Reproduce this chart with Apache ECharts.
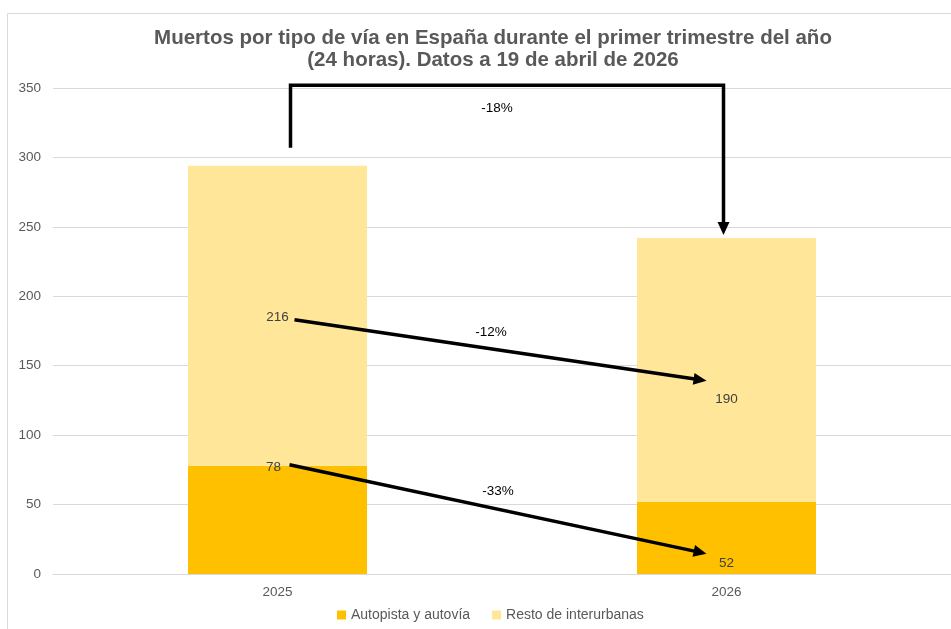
<!DOCTYPE html>
<html lang="es">
<head>
  <meta charset="UTF-8">
  <title>Muertos por tipo de vía</title>
  <script src="https://cdn.jsdelivr.net/npm/echarts@6/dist/echarts.min.js"></script>
  <style>
    body { margin: 0; padding: 0; background: #fff; }
    #chart { width: 951px; height: 629px; }
  </style>
</head>
<body>
  <div id="chart"></div>
  <script>
    var years = ['2025', '2026'];
    var autopista = [78, 52];
    var resto = [216, 190];
    var seriesNames = ['Autopista y autovía', 'Resto de interurbanas'];
    var changes = ['-18%', '-12%', '-33%'];

    var chart = echarts.init(document.getElementById('chart'));
    var font = 'Liberation Sans, Arial, sans-serif';

    var option = {
      animation: false,
      title: {
        text: 'Muertos por tipo de vía en España durante el primer trimestre del año\n(24 horas). Datos a 19 de abril de 2026',
        left: 488,
        textAlign: 'center',
        top: 22,
        textStyle: { fontFamily: font, fontSize: 20.5, fontWeight: 'bold', color: '#595959', lineHeight: 22 }
      },
      legend: {
        bottom: 2,
        left: 332,
        itemWidth: 9,
        itemHeight: 9,
        itemGap: 22,
        icon: 'rect',
        textStyle: { fontFamily: font, fontSize: 14, color: '#595959' },
        data: seriesNames
      },
      grid: { left: 53, right: 0, top: 88, bottom: 55 },
      xAxis: {
        type: 'category',
        data: years,
        axisTick: { show: false },
        axisLine: { lineStyle: { color: '#d9d9d9' } },
        axisLabel: { fontFamily: font, fontSize: 13.5, color: '#595959', margin: 11 }
      },
      yAxis: {
        type: 'value',
        min: 0,
        max: 350,
        interval: 50,
        axisLabel: { fontFamily: font, fontSize: 13.5, color: '#595959', margin: 12 },
        splitLine: { lineStyle: { color: '#d9d9d9' } }
      },
      series: [
        {
          name: seriesNames[0],
          type: 'bar',
          stack: 'total',
          barWidth: 179,
          itemStyle: { color: '#FFC000' },
          label: { show: true, position: 'inside', fontFamily: font, fontSize: 13.5, color: '#404040' },
          data: [
            { value: autopista[0], label: { offset: [-4, -53] } },
            { value: autopista[1], label: { offset: [0, 25] } }
          ]
        },
        {
          name: seriesNames[1],
          type: 'bar',
          stack: 'total',
          barWidth: 179,
          itemStyle: { color: '#FFE699' },
          label: { show: true, position: 'inside', fontFamily: font, fontSize: 13.5, color: '#404040' },
          data: [
            { value: resto[0], label: { offset: [0, 2] } },
            { value: resto[1], label: { offset: [0, 29] } }
          ]
        }
      ]
    };
    chart.setOption(option);

    function px(cat, val) {
      return chart.convertToPixel({ xAxisIndex: 0, yAxisIndex: 0 }, [cat, val]);
    }

    function arrowHead(x1, y1, x2, y2) {
      var a = Math.atan2(y2 - y1, x2 - x1);
      var len = 13, w = 6;
      var bx = x2 - len * Math.cos(a), by = y2 - len * Math.sin(a);
      return {
        type: 'polygon',
        z: 100,
        shape: { points: [
          [x2, y2],
          [bx + w * Math.sin(a), by - w * Math.cos(a)],
          [bx - w * Math.sin(a), by + w * Math.cos(a)]
        ] },
        style: { fill: '#000' }
      };
    }

    function arrow(p1, p2) {
      var a = Math.atan2(p2[1] - p1[1], p2[0] - p1[0]);
      var ex = p2[0] - 10 * Math.cos(a), ey = p2[1] - 10 * Math.sin(a);
      return [
        { type: 'line', z: 100, shape: { x1: p1[0], y1: p1[1], x2: ex, y2: ey }, style: { stroke: '#000', lineWidth: 3.5 } },
        arrowHead(p1[0], p1[1], p2[0], p2[1])
      ];
    }

    function note(x, y, txt) {
      return { type: 'text', z: 100, x: x, y: y,
        style: { text: txt, font: '13.5px ' + font, fill: '#000', align: 'center', verticalAlign: 'middle' } };
    }

    var a25 = px(years[0], 0), a26 = px(years[1], 0);
    var top25 = px(years[0], autopista[0] + resto[0]);
    var top26 = px(years[1], autopista[1] + resto[1]);
    var mid1 = px(years[0], autopista[0] + resto[0] / 2);
    var lo1 = px(years[0], autopista[0]);

    var gfx = [
      { type: 'rect', shape: { x: 7.5, y: 13.5, width: 1000, height: 1000 }, style: { fill: 'none', stroke: '#d9d9d9', lineWidth: 1 } }
    ];

    // bracket -18%
    var bx1 = a25[0] + 13, bx2 = a26[0] - 3, byTop = px(years[0], 352)[1];
    gfx.push({ type: 'polyline', z: 100, shape: { points: [[bx1, top25[1] - 18], [bx1, byTop], [bx2, byTop], [bx2, top26[1] - 14]] },
      style: { stroke: '#000', lineWidth: 3.5, fill: null } });
    gfx.push(arrowHead(bx2, byTop, bx2, top26[1] - 3));
    gfx.push(note(497, byTop + 23, changes[0]));

    // 216 -> 190
    gfx = gfx.concat(arrow([mid1[0] + 17, mid1[1] + 4], [a26[0] - 20, mid1[1] + 65]));
    gfx.push(note(491, mid1[1] + 17, changes[1]));

    // 78 -> 52
    gfx = gfx.concat(arrow([lo1[0] + 12, lo1[1] - 1], [a26[0] - 20, lo1[1] + 88]));
    gfx.push(note(498, lo1[1] + 26, changes[2]));

    chart.setOption({ graphic: gfx });
  </script>
</body>
</html>
